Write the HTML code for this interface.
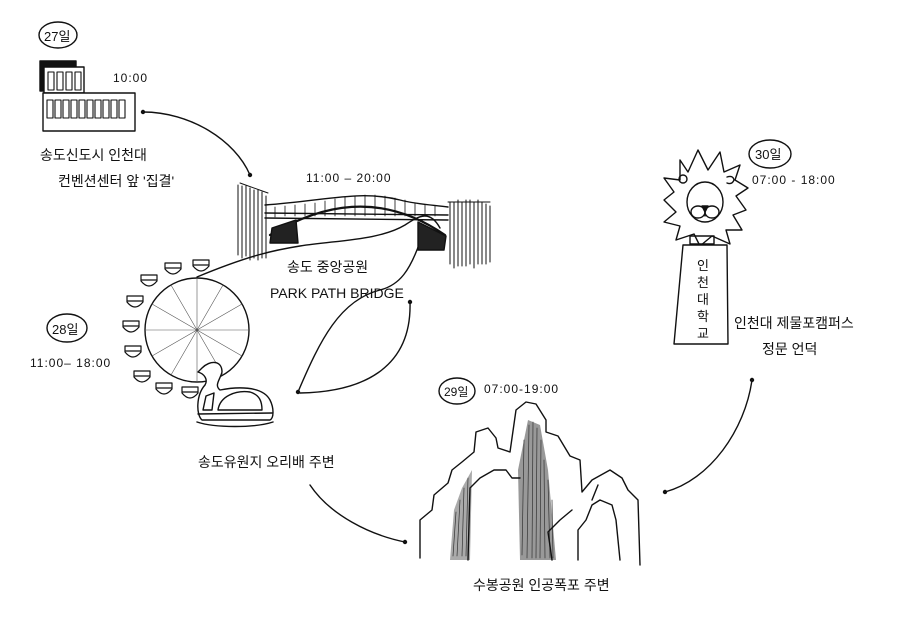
<!DOCTYPE html>
<html><head><meta charset="utf-8"><style>
html,body{margin:0;padding:0;background:#fff;}
svg{display:block}
text{font-family:"Liberation Sans","Noto Sans CJK KR",sans-serif;fill:#111;}
</style></head><body>
<svg width="900" height="618" viewBox="0 0 900 618" xmlns="http://www.w3.org/2000/svg">
<g fill="none" stroke="#111" stroke-width="1.4" stroke-linecap="round" stroke-linejoin="round">
<ellipse cx="58" cy="35" rx="19" ry="13"/>
<rect x="40" y="61" width="36" height="30" fill="#111"/>
<rect x="44" y="67" width="40" height="26" fill="#fff"/>
<rect x="43" y="93" width="92" height="38" fill="#fff"/>
<g stroke-width="1.1">
<rect x="48" y="72" width="6" height="18"/><rect x="57" y="72" width="6" height="18"/><rect x="66" y="72" width="6" height="18"/><rect x="75" y="72" width="6" height="18"/>
<rect x="47" y="100" width="6" height="18"/><rect x="55" y="100" width="6" height="18"/><rect x="63" y="100" width="6" height="18"/><rect x="71" y="100" width="6" height="18"/><rect x="79" y="100" width="6" height="18"/><rect x="87" y="100" width="6" height="18"/><rect x="95" y="100" width="6" height="18"/><rect x="103" y="100" width="6" height="18"/><rect x="111" y="100" width="6" height="18"/><rect x="119" y="100" width="6" height="18"/>
</g>
<path d="M143,112 C190,112 235,140 250,175"/>
<path d="M197,277 C250,255 275,250 300,246 C340,240 380,240 405,225 C420,215 430,210 440,228"/>
<path d="M298,392 C320,340 340,300 380,290 C400,285 410,270 420,242"/>
<path d="M300,393 C360,392 412,370 410,302"/>
<path d="M310,485 C330,515 370,535 405,542"/>
<path d="M665,492 C710,480 745,430 752,380"/>
<g stroke-width="1">
<path d="M238,185 v70 M242,186 v72 M246,186 v70 M250,188 v72 M254,190 v68 M258,190 v70 M262,192 v66 M266,196 v62 M240,183 l28,10"/>
<path d="M450,202 v62 M454,202 v66 M458,200 v66 M462,202 v64 M466,200 v66 M470,200 v64 M474,202 v66 M478,200 v64 M482,202 v62 M486,204 v60 M490,206 v56 M448,202 h42"/>
</g>
<path d="M265,205 C330,200 360,190 400,200 C420,205 435,205 448,207"/>
<path d="M265,213 L448,215"/>
<path d="M265,218 L448,220"/>
<g stroke-width="0.8"><path d="M275,207v10 M285,206v10 M295,205v11 M305,204v12 M315,203v13 M325,201v15 M335,199v17 M345,197v19 M355,196v20 M365,195v21 M375,195v21 M385,196v20 M395,198v18 M405,200v16 M415,203v13 M425,205v11 M435,206v10"/></g>
<path d="M270,235 C320,205 380,190 445,235" stroke-width="2.2"/>
<path d="M272,228 L296,220 L298,243 L270,243 Z" fill="#222"/>
<path d="M418,222 L446,236 L444,250 L418,250 Z" fill="#222"/>
<circle cx="197" cy="330" r="52"/>
<g stroke-width="0.6" stroke="#555">
<path d="M197,330 L197,278 M197,330 L223,285 M197,330 L242,304 M197,330 L249,330 M197,330 L242,356 M197,330 L223,375 M197,330 L197,382 M197,330 L171,375 M197,330 L152,356 M197,330 L145,330 M197,330 L152,304 M197,330 L171,285"/>
</g>
<g stroke-width="1.2">
<path d="M193,260 h16 v6 q-8,10 -16,0 z M193,265 h16"/>
<path d="M165,263 h16 v6 q-8,10 -16,0 z M165,268 h16"/>
<path d="M141,275 h16 v6 q-8,10 -16,0 z M141,280 h16"/>
<path d="M127,296 h16 v6 q-8,10 -16,0 z M127,301 h16"/>
<path d="M123,321 h16 v6 q-8,10 -16,0 z M123,326 h16"/>
<path d="M125,346 h16 v6 q-8,10 -16,0 z M125,351 h16"/>
<path d="M134,371 h16 v6 q-8,10 -16,0 z M134,376 h16"/>
<path d="M156,383 h16 v6 q-8,10 -16,0 z M156,388 h16"/>
<path d="M182,387 h16 v6 q-8,10 -16,0 z M182,392 h16"/>
</g>
<path d="M202,368 C210,360 222,360 222,372 C220,380 214,385 220,390 C235,387 262,385 270,400 C274,408 274,418 270,420 L202,420 C196,415 196,395 205,385 C208,380 205,374 198,372 Z" fill="#fff"/>
<path d="M197,422 C215,428 255,428 273,422"/>
<path d="M198,414 L272,413"/>
<path d="M218,410 C220,396 236,390 250,392 C260,395 262,402 262,410 Z"/>
<path d="M203,410 L206,396 L214,393 L212,410 Z"/>
<ellipse cx="67" cy="328" rx="20" ry="14"/>
<path d="M520,560 L518,470 L528,420 L540,425 L548,470 L556,560 Z" fill="#999" stroke="none"/>
<path d="M450,560 L454,510 L462,488 L472,470 L470,560 Z" fill="#aaa" stroke="none"/>
<g stroke="#333" stroke-width="0.7">
<path d="M522,555 L524,440 M527,558 L529,425 M532,558 L533,422 M536,558 L537,428 M540,558 L541,440 M545,558 L544,460 M550,558 L548,480 M553,558 L552,500"/>
<path d="M453,556 L456,512 M457,556 L460,500 M462,556 L464,488 M466,556 L468,478"/>
</g>
<path d="M420,558 L420,520 L432,510 L434,495 L448,483 L452,470 L462,462 L474,452 L476,432 L488,428 L496,438 L498,448 L510,452 L516,410 L526,402 L536,404 L546,420 L546,432 L558,436 L570,456 L580,460 L582,492 L592,480 L610,470 L622,478 L628,490 L638,500 L640,565"/>
<path d="M468,560 L470,488 L480,478 L494,470 L506,470 L512,478 L520,478"/>
<path d="M578,560 L578,530 L586,520 L592,505 L600,500 L612,505 L616,520 L620,560"/>
<path d="M592,500 L598,485 M552,560 L548,532 L560,520 L572,510"/>
<ellipse cx="457" cy="391" rx="18" ry="13"/>
<path d="M680,160 L688,172 L698,150 L708,170 L720,152 L724,172 L740,165 L735,180 L748,188 L736,196 L746,210 L733,215 L742,230 L726,230 L730,244 L712,236 L700,246 L694,234 L676,240 L680,226 L664,222 L676,212 L664,200 L674,192 L664,178 L680,180 Z" fill="#fff"/>
<ellipse cx="705" cy="202" rx="18" ry="20"/>
<ellipse cx="698" cy="212" rx="7" ry="6"/>
<ellipse cx="712" cy="212" rx="7" ry="6"/>
<path d="M702,206 L708,206 L705,212 Z" fill="#111"/>
<path d="M705,212 v4"/>
<circle cx="683" cy="179" r="4"/>
<path d="M727,177 q6,-2 7,3 q-2,5 -7,3"/>
<rect x="690" y="236" width="24" height="8"/>
<path d="M683,245 L727,245 L728,344 L674,344 Z" fill="#fff"/>
<ellipse cx="770" cy="154" rx="21" ry="14"/>
</g>
<g fill="#111">
<circle cx="143" cy="112" r="2.2"/><circle cx="250" cy="175" r="2.2"/>
<circle cx="298" cy="392" r="2.2"/><circle cx="410" cy="302" r="2.2"/>
<circle cx="405" cy="542" r="2.2"/><circle cx="665" cy="492" r="2.2"/><circle cx="752" cy="380" r="2.2"/>
</g>
<g font-size="13">
<text x="44" y="41" font-size="13">27일</text>
<text x="113" y="82" font-size="12" letter-spacing="1">10:00</text>
<text x="40" y="160" font-size="14">송도신도시 인천대</text>
<text x="58" y="186" font-size="14">컨벤션센터 앞 '집결'</text>
<text x="306" y="182" font-size="12" letter-spacing="1">11:00 – 20:00</text>
<text x="287" y="272" font-size="14">송도 중앙공원</text>
<text x="270" y="298" font-size="14">PARK PATH BRIDGE</text>
<text x="52" y="334" font-size="13">28일</text>
<text x="30" y="367" font-size="12" letter-spacing="1">11:00– 18:00</text>
<text x="198" y="467" font-size="14">송도유원지 오리배 주변</text>
<text x="444" y="396" font-size="12">29일</text>
<text x="484" y="393" font-size="12" letter-spacing="1">07:00-19:00</text>
<text x="473" y="590" font-size="14">수봉공원 인공폭포 주변</text>
<text x="755" y="159" font-size="13">30일</text>
<text x="752" y="184" font-size="12" letter-spacing="1">07:00 - 18:00</text>
<text x="734" y="328" font-size="14">인천대 제물포캠퍼스</text>
<text x="762" y="354" font-size="14">정문 언덕</text>
<text x="697" y="270" font-size="13">인</text>
<text x="697" y="287" font-size="13">천</text>
<text x="697" y="304" font-size="13">대</text>
<text x="697" y="321" font-size="13">학</text>
<text x="697" y="338" font-size="13">교</text>
</g>
</svg>
</body></html>
